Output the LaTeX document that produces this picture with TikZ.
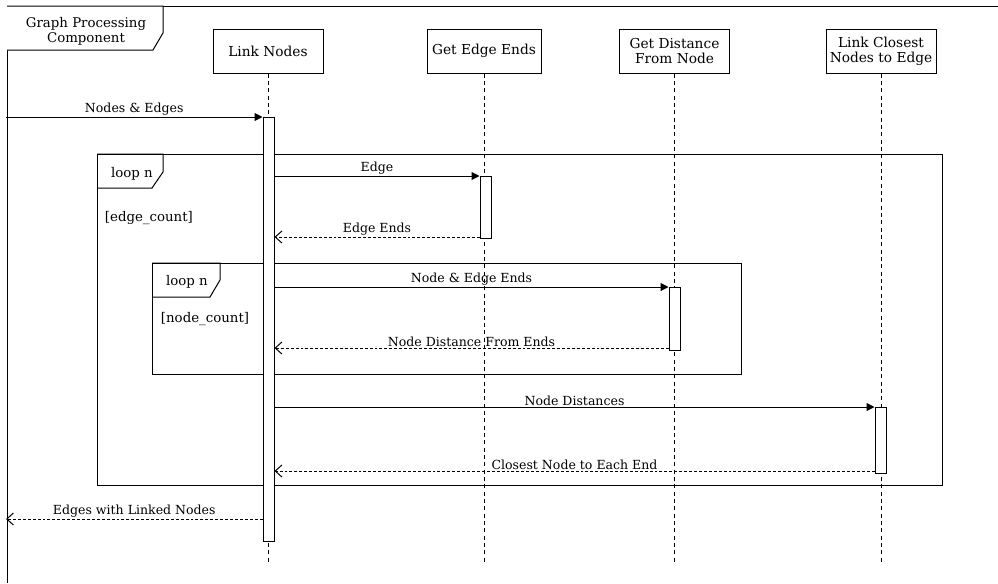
\documentclass[tikz,border=0pt]{standalone}
\usepackage{fontspec}
\setmainfont{DejaVu Serif}
\usetikzlibrary{arrows.meta}
\tikzset{
  head/.style={draw, fill=white, align=center, minimum width=82.5pt, minimum height=33pt, inner sep=1pt, font=\fontsize{10.3}{11.3}\selectfont},
  act/.style={draw, fill=white, minimum width=8.25pt, inner sep=0pt, anchor=north},
  life/.style={dash pattern=on 3pt off 2.5pt},
  msg/.style={-{Triangle[length=6pt,width=6pt]}},
  ret/.style={dash pattern=on 2.2pt off 1.5pt, -{Straight Barb[length=5pt,width=9pt]}},
  lbl/.style={above, inner sep=0.6pt, font=\fontsize{9.4}{10}\selectfont},
  frametxt/.style={font=\fontsize{10}{11.3}\selectfont, align=center}
}
\begin{document}
\begin{tikzpicture}[x=0.75pt, y=-0.75pt, line width=0.75pt]
\useasboundingbox (0,0) rectangle (998,583);
% outer frame
\draw (998,6) -- (7,6) -- (7,583);
\draw[fill=white] (7,6) -- (163,6) -- (163,33) -- (153,50) -- (7,50);
\node[frametxt] (comp) at (86,31) {Graph Processing\\Component};
% loops
\draw (97,154) rectangle (942,485);
\draw (97,154) -- (163,154) -- (163,172) -- (152,188) -- (97,188);
\node[frametxt] (loopa) at (132,174) {loop n};
\node[frametxt, anchor=west] (conda) at (100,218) {[edge\_count]};
\draw (152,263) rectangle (741,374);
\draw (152,263) -- (220,263) -- (220,280) -- (210,297) -- (152,297);
\node[frametxt] (loopb) at (187,282) {loop n};
\node[frametxt, anchor=west] (condb) at (156,319) {[node\_count]};
% lifelines
\node[head] (ln) at (268,51) {Link Nodes};
\node[head, minimum width=85.5pt] (ge) at (484,51) {Get Edge Ends};
\node[head, minimum width=83pt] (gd) at (674.5,51) {Get Distance\\From Node};
\node[head] (lc) at (881,51) {Link Closest\\Nodes to Edge};
\coordinate (bot) at (0,563);
\foreach \h in {ln,ge,gd,lc}
  \draw[life] (\h.south) -- (\h.south |- bot);
% activations
\node[act, minimum height=318pt] (a1) at (268.5,117) {};
\node[act, minimum height=46.5pt] (a2) at (485.5,176) {};
\node[act, minimum height=47.25pt] (a3) at (674.5,287) {};
\node[act, minimum height=49.5pt] (a4) at (880.5,407) {};
% messages
\coordinate (in) at (6,117);
\coordinate (out) at (6,519);
\coordinate (r2) at ([yshift=1.5pt]a2.south west);
\coordinate (r3) at ([yshift=2.25pt]a3.south west);
\coordinate (r4) at ([yshift=2.25pt]a4.south west);
\draw[msg] (in) -- node[lbl] {Nodes \& Edges} (a1.north west);
\draw[msg] (a1.east |- a2.north) -- node[lbl] {Edge} (a2.north west);
\draw[ret] (r2) -- node[lbl] {Edge Ends} (a1.east |- r2);
\draw[msg] (a1.east |- a3.north) -- node[lbl] {Node \& Edge Ends} (a3.north west);
\draw[ret] (r3) -- node[lbl] {Node Distance From Ends} (a1.east |- r3);
\draw[msg] (a1.east |- a4.north) -- node[lbl] {Node Distances} (a4.north west);
\draw[ret] (r4) -- node[lbl] {Closest Node to Each End} (a1.east |- r4);
\draw[ret] (a1.west |- out) -- node[lbl] {Edges with Linked Nodes} (out);
\end{tikzpicture}
\end{document}
